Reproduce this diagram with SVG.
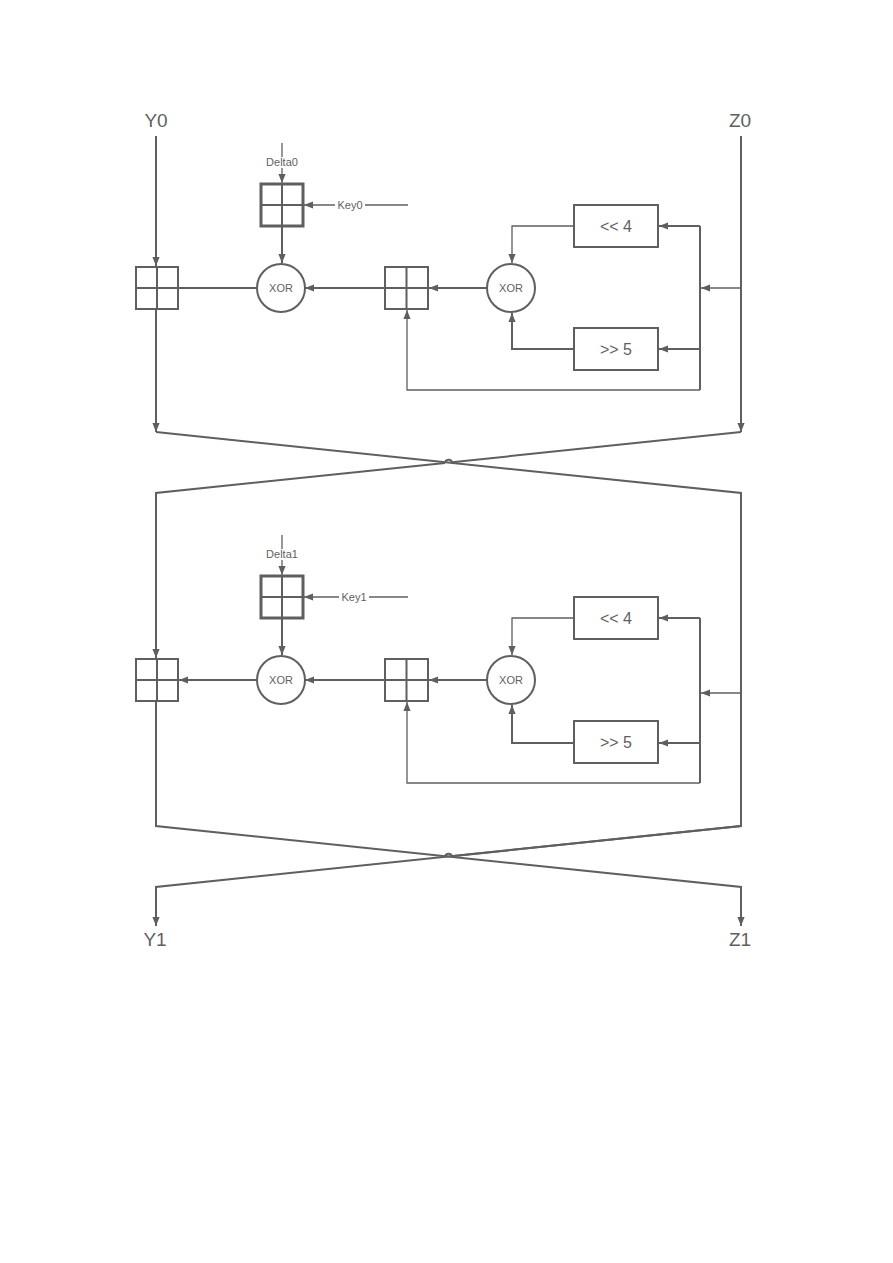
<svg xmlns="http://www.w3.org/2000/svg" width="893" height="1263" viewBox="0 0 893 1263">
<style>
.ln{fill:none;stroke:#5f5f5f;stroke-width:2}
.thin{fill:none;stroke:#5f5f5f;stroke-width:1.3}
.box{fill:#fff;stroke:#5f5f5f;stroke-width:2}
.kbox{fill:#fff;stroke:#5f5f5f;stroke-width:3}
.cross{fill:none;stroke:#5f5f5f;stroke-width:2}
.big{font-family:"Liberation Sans",Arial,sans-serif;font-size:19px;fill:#5f5f5f;text-anchor:middle}
.mid{font-family:"Liberation Sans",Arial,sans-serif;font-size:16px;fill:#5f5f5f;text-anchor:middle}
.sm{font-family:"Liberation Sans",Arial,sans-serif;font-size:11px;fill:#5f5f5f;text-anchor:middle}
.bg{fill:#fff}
</style>
<defs>
<marker id="ar" viewBox="0 0 10 10" refX="10" refY="5" markerWidth="9" markerHeight="9" markerUnits="userSpaceOnUse" orient="auto">
<path d="M0,1 L10,5 L0,9 z" fill="#5f5f5f"/>
</marker>
</defs>
<rect width="893" height="1263" fill="#fff"/>
<g id="connectors">
<!-- top round -->
<path class="ln" d="M156,136 V266" marker-end="url(#ar)"/>
<path class="ln" d="M156,309 V432" marker-end="url(#ar)"/>
<path class="ln" d="M178,288 H258"/>
<path class="thin" d="M282,143 V183" marker-end="url(#ar)"/>
<path class="thin" d="M408,205 H304" marker-end="url(#ar)"/>
<path class="ln" d="M282,226 V263" marker-end="url(#ar)"/>
<path class="ln" d="M385,288 H305" marker-end="url(#ar)"/>
<path class="ln" d="M487,288 H429" marker-end="url(#ar)"/>
<path class="thin" d="M574,226 H512 V263" marker-end="url(#ar)"/>
<path class="ln" d="M574,349 H512 V313" marker-end="url(#ar)"/>
<path class="ln" d="M741,136 V432" marker-end="url(#ar)"/>
<path class="thin" d="M741,288 H701" marker-end="url(#ar)"/>
<path class="ln" d="M700,226 V390"/>
<path class="ln" d="M700,226 H659" marker-end="url(#ar)"/>
<path class="ln" d="M700,349 H659" marker-end="url(#ar)"/>
<path class="thin" d="M700,390 H407 V310" marker-end="url(#ar)"/>
<!-- first crossover -->
<path class="ln" d="M156,432 L741,493 V826 L156,887 V926" marker-end="url(#ar)"/>
<path class="ln" d="M741,432 L452,462.2"/>
<path class="ln" d="M445,463 L156,493 V658" marker-end="url(#ar)"/>
<path class="ln" d="M445,463 a3.6,3.6 0 0 1 7,-0.8"/>
<!-- bottom round -->
<path class="ln" d="M156,701 V826 L741,887 V926" marker-end="url(#ar)"/>
<path class="ln" d="M741,826 L452,856.2"/>
<path class="ln" d="M445,857 a3.6,3.6 0 0 1 7,-0.8"/>
<path class="ln" d="M258,680 H179" marker-end="url(#ar)"/>
<path class="thin" d="M282,535 V575" marker-end="url(#ar)"/>
<path class="thin" d="M408,597 H304" marker-end="url(#ar)"/>
<path class="ln" d="M282,619 V655" marker-end="url(#ar)"/>
<path class="ln" d="M385,680 H305" marker-end="url(#ar)"/>
<path class="ln" d="M487,680 H429" marker-end="url(#ar)"/>
<path class="thin" d="M574,618 H512 V655" marker-end="url(#ar)"/>
<path class="ln" d="M574,743 H512 V705" marker-end="url(#ar)"/>
<path class="thin" d="M741,693 H701" marker-end="url(#ar)"/>
<path class="ln" d="M700,618 V783"/>
<path class="ln" d="M700,618 H659" marker-end="url(#ar)"/>
<path class="ln" d="M700,743 H659" marker-end="url(#ar)"/>
<path class="thin" d="M700,783 H407 V702" marker-end="url(#ar)"/>
</g>
<g id="Y0"><text class="big" x="156" y="127">Y0</text></g>
<g id="Z0"><text class="big" x="740" y="127">Z0</text></g>
<g id="Y1"><text class="big" x="155" y="946">Y1</text></g>
<g id="Z1"><text class="big" x="740" y="946">Z1</text></g>
<g id="add_y0">
<rect class="box" x="136" y="267" width="42" height="42"/>
<path class="cross" d="M157,267 V309 M136,288 H178"/>
</g>
<g id="add_delta0">
<rect class="kbox" x="261" y="184" width="42" height="42"/>
<path class="cross" d="M282,184 V226 M261,205 H303"/>
</g>
<g id="label_delta0"><rect class="bg" x="265" y="157" width="34" height="11"/><text class="sm" x="282" y="166">Delta0</text></g>
<g id="label_key0"><rect class="bg" x="335" y="199" width="30" height="11"/><text class="sm" x="350" y="209">Key0</text></g>
<g id="xor1_0">
<circle class="box" cx="281" cy="288" r="24"/>
<text class="sm" x="281" y="292">XOR</text>
</g>
<g id="add_mid0">
<rect class="box" x="385" y="267" width="43" height="42"/>
<path class="cross" d="M406.5,267 V309 M385,288 H428"/>
</g>
<g id="xor2_0">
<circle class="box" cx="511" cy="288" r="24"/>
<text class="sm" x="511" y="292">XOR</text>
</g>
<g id="shl0">
<rect class="box" x="574" y="205" width="84" height="42"/>
<text class="mid" x="616" y="232">&lt;&lt; 4</text>
</g>
<g id="shr0">
<rect class="box" x="574" y="328" width="84" height="42"/>
<text class="mid" x="616" y="355">&gt;&gt; 5</text>
</g>
<g id="add_y1">
<rect class="box" x="136" y="659" width="42" height="42"/>
<path class="cross" d="M157,659 V701 M136,680 H178"/>
</g>
<g id="add_delta1">
<rect class="kbox" x="261" y="576" width="42" height="42"/>
<path class="cross" d="M282,576 V618 M261,597 H303"/>
</g>
<g id="label_delta1"><rect class="bg" x="265" y="549" width="34" height="11"/><text class="sm" x="282" y="558">Delta1</text></g>
<g id="label_key1"><rect class="bg" x="339" y="591" width="30" height="11"/><text class="sm" x="354" y="601">Key1</text></g>
<g id="xor1_1">
<circle class="box" cx="281" cy="680" r="24"/>
<text class="sm" x="281" y="684">XOR</text>
</g>
<g id="add_mid1">
<rect class="box" x="385" y="659" width="43" height="42"/>
<path class="cross" d="M406.5,659 V701 M385,680 H428"/>
</g>
<g id="xor2_1">
<circle class="box" cx="511" cy="680" r="24"/>
<text class="sm" x="511" y="684">XOR</text>
</g>
<g id="shl1">
<rect class="box" x="574" y="597" width="84" height="42"/>
<text class="mid" x="616" y="624">&lt;&lt; 4</text>
</g>
<g id="shr1">
<rect class="box" x="574" y="721" width="84" height="42"/>
<text class="mid" x="616" y="748">&gt;&gt; 5</text>
</g>
</svg>
